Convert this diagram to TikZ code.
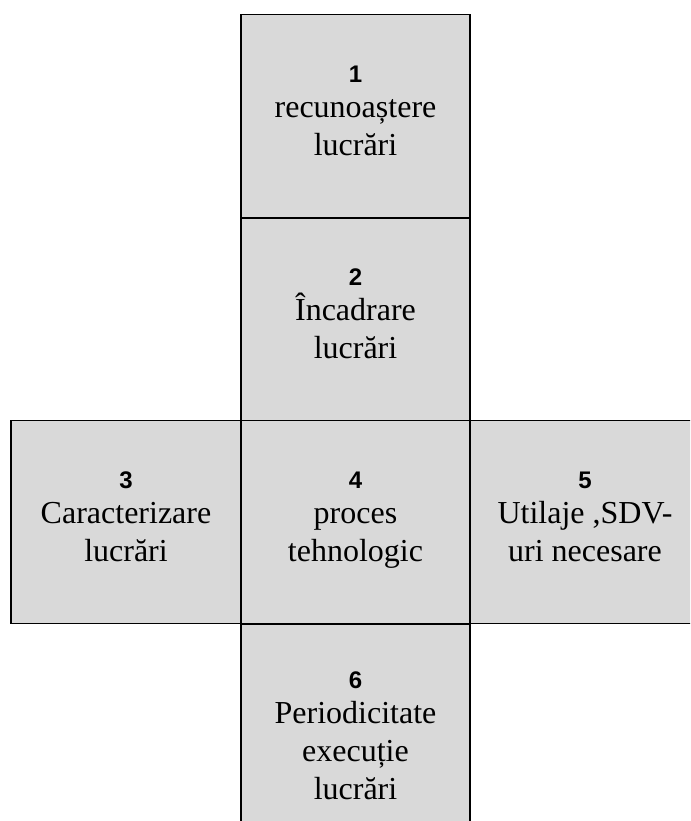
\documentclass[tikz,border=0pt]{standalone}
\usepackage{fontspec}
\setmainfont{Liberation Serif}
\newfontfamily\numfont{Liberation Sans}
\usetikzlibrary{positioning}
\definecolor{cellgray}{RGB}{217,217,217}
\tikzstyle{cell} = [rectangle, draw=black, line width=1.5pt, fill=cellgray, minimum width=229pt, minimum height=203pt, inner sep=0pt, outer sep=0pt, align=center, text centered, font=\fontsize{32}{38}\selectfont]
\newcommand{\nr}[1]{\numfont\bfseries\fontsize{24}{26}\selectfont #1}

\begin{document}
\begin{tikzpicture}[x=1pt,y=-1pt]
            \useasboundingbox (0,0) rectangle (690,821);
            \clip (0,0) rectangle (690,821);
            \node [cell] at (355.5,116) (recon) {\nr{1}\\[-3pt]recunoaștere\\lucrări\strut};
            \node [cell] at (355.5,319.5) (incadr) {\nr{2}\\[-3pt]Încadrare\\lucrări\strut};
            \node [cell, minimum width=230pt] at (126,522) (caract) {\nr{3}\\[-3pt]Caracterizare\\lucrări\strut};
            \node [cell] at (355.5,522) (proces) {\nr{4}\\[-3pt]proces\\tehnologic\strut};
            \node [cell, minimum width=230pt] at (585,522) (utilaje) {\nr{5}\\[-3pt]Utilaje ,SDV-\\uri necesare\strut};
            \node [cell, minimum height=235pt] at (355.5,741.5) (period) {\nr{6}\\[-3pt]Periodicitate\\execuție\\lucrări\strut};
            \end{tikzpicture}
\end{document}
